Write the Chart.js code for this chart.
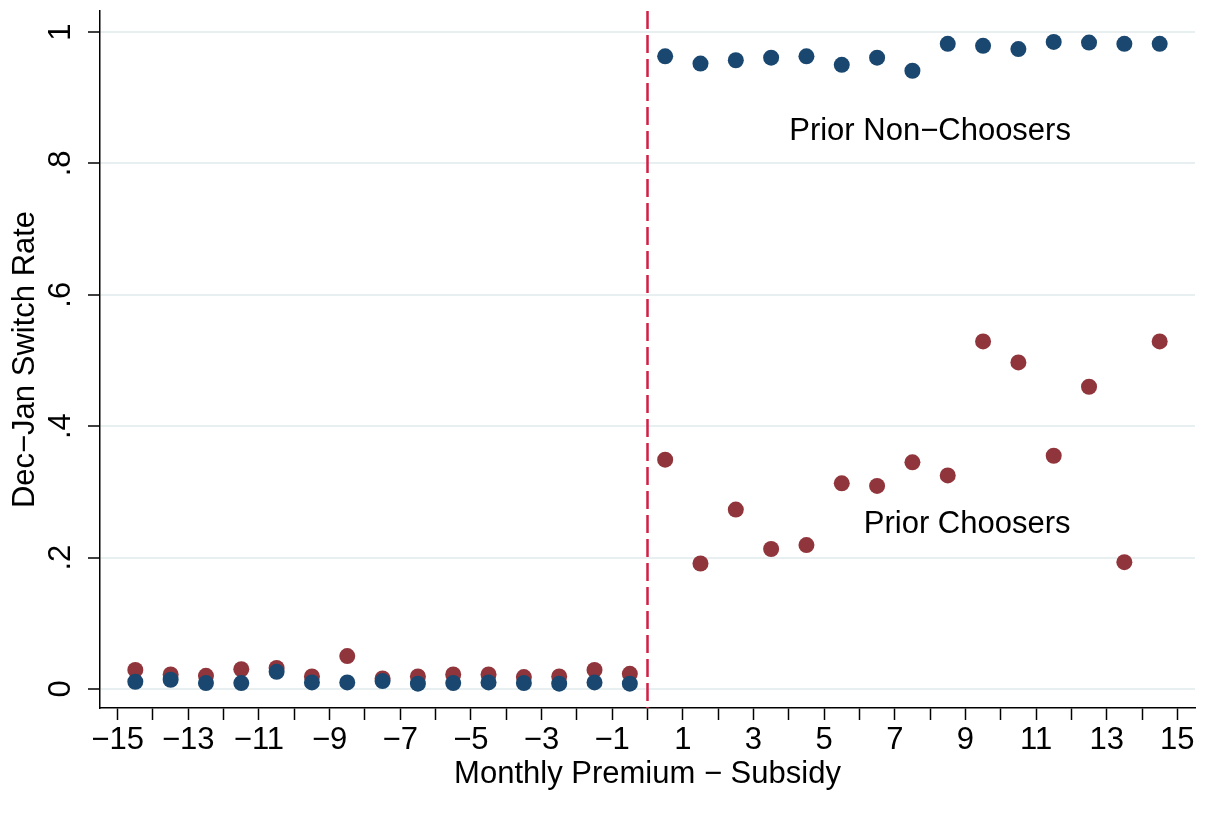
<!DOCTYPE html>
<html>
<head>
<meta charset="utf-8">
<script src="https://cdn.jsdelivr.net/npm/chart.js@4.4.1/dist/chart.umd.min.js"></script>
<style>
  html, body { margin: 0; padding: 0; background: #fff; }
  #wrap { width: 1221px; height: 830px; }
</style>
</head>
<body>
<div id="wrap"><canvas id="switchChart" width="1221" height="830"></canvas></div>
<script>
// bin midpoints, monthly premium minus subsidy
const bins = [-14.5, -13.5, -12.5, -11.5, -10.5, -9.5, -8.5, -7.5, -6.5, -5.5, -4.5, -3.5, -2.5, -1.5, -0.5,
              0.5, 1.5, 2.5, 3.5, 4.5, 5.5, 6.5, 7.5, 8.5, 9.5, 10.5, 11.5, 12.5, 13.5, 14.5];

const nonChoosers = [0.011, 0.014, 0.009, 0.009, 0.026, 0.010, 0.010, 0.012, 0.008, 0.009, 0.010, 0.009, 0.008, 0.010, 0.008,
                     0.963, 0.952, 0.957, 0.961, 0.963, 0.950, 0.961, 0.941, 0.982, 0.979, 0.974, 0.985, 0.984, 0.982, 0.982];

const choosers = [0.029, 0.022, 0.020, 0.030, 0.032, 0.019, 0.050, 0.016, 0.019, 0.022, 0.022, 0.018, 0.019, 0.029, 0.023,
                  0.349, 0.191, 0.273, 0.213, 0.219, 0.313, 0.309, 0.345, 0.325, 0.529, 0.497, 0.355, 0.460, 0.193, 0.529];

const xTicks = [];
for (let i = -15; i <= 15; i++) xTicks.push(i);
const yTicks = [0, 0.2, 0.4, 0.6, 0.8, 1];
const yTickLabels = ['0', '.2', '.4', '.6', '.8', '1'];

const labels = [
    { text: 'Prior Non\u2212Choosers', x: 8.0, y: 0.849 },
    { text: 'Prior Choosers', x: 9.05, y: 0.251 }
];

const FONT = '"Liberation Sans", Arial, sans-serif';
const FS = 31;
const navy = '#1a476f';
const maroon = '#90353b';

const toPoints = (ys) => bins.map((x, i) => ({ x: x, y: ys[i] }));

const extras = {
    id: 'extras',
    beforeDatasetsDraw(chart) {
        const { ctx, chartArea, scales } = chart;
        const x0 = scales.x.getPixelForValue(0);
        ctx.save();
        ctx.strokeStyle = '#d11f47';
        ctx.lineWidth = 2.5;
        ctx.setLineDash([18, 6]);
        ctx.beginPath();
        ctx.moveTo(x0, chartArea.top);
        ctx.lineTo(x0, chartArea.bottom);
        ctx.stroke();
        ctx.restore();
    },
    afterDraw(chart) {
        const { ctx, scales } = chart;
        ctx.save();
        ctx.fillStyle = '#000';
        ctx.font = FS + 'px ' + FONT;
        ctx.textAlign = 'center';
        ctx.textBaseline = 'middle';
        yTicks.forEach((v, i) => {
            ctx.save();
            ctx.translate(61, scales.y.getPixelForValue(v));
            ctx.rotate(-Math.PI / 2);
            ctx.fillText(yTickLabels[i], 0, 0);
            ctx.restore();
        });
        labels.forEach(l => {
            ctx.fillText(l.text, scales.x.getPixelForValue(l.x), scales.y.getPixelForValue(l.y));
        });
        ctx.restore();
    }
};

new Chart(document.getElementById('switchChart').getContext('2d'), {
    type: 'scatter',
    data: {
        datasets: [
            {
                label: 'Prior Non-Choosers',
                data: toPoints(nonChoosers),
                backgroundColor: navy,
                borderWidth: 0,
                pointRadius: 8
            },
            {
                label: 'Prior Choosers',
                data: toPoints(choosers),
                backgroundColor: maroon,
                borderWidth: 0,
                pointRadius: 8
            }
        ]
    },
    plugins: [extras],
    options: {
        responsive: false,
        animation: false,
        devicePixelRatio: 1,
        layout: { padding: { top: 11, right: 26, left: 0, bottom: 0 } },
        plugins: {
            legend: { display: false },
            tooltip: { enabled: false }
        },
        scales: {
            x: {
                type: 'linear',
                min: -15.5,
                max: 15.5,
                afterBuildTicks: (s) => { s.ticks = xTicks.map(v => ({ value: v })); },
                afterFit: (s) => { s.height = 122; },
                ticks: {
                    autoSkip: false,
                    maxRotation: 0,
                    padding: 2,
                    color: '#000',
                    font: { family: FONT, size: FS },
                    callback: (v) => (Math.abs(v) % 2 === 1 ? (v < 0 ? '\u2212' + Math.abs(v) : String(v)) : '')
                },
                grid: {
                    drawOnChartArea: false,
                    drawTicks: true,
                    tickLength: 12,
                    tickColor: '#000',
                    tickWidth: 1.5
                },
                border: { display: true, color: '#000', width: 1.5 },
                title: {
                    display: true,
                    text: 'Monthly Premium \u2212 Subsidy',
                    color: '#000',
                    font: { family: FONT, size: FS },
                    padding: { top: 0, bottom: 37 }
                }
            },
            y: {
                min: -0.029,
                max: 1.032,
                afterBuildTicks: (s) => { s.ticks = yTicks.map(v => ({ value: v })); },
                afterFit: (s) => { s.width = 100; },
                ticks: { display: false },
                grid: {
                    color: '#e8eff0',
                    lineWidth: 2,
                    drawTicks: true,
                    tickLength: 12,
                    tickColor: '#000',
                    tickWidth: 1.5
                },
                border: { display: true, color: '#000', width: 1.5 },
                title: {
                    display: true,
                    text: 'Dec\u2212Jan Switch Rate',
                    color: '#000',
                    font: { family: FONT, size: FS },
                    padding: { top: 7, bottom: 0 }
                }
            }
        }
    }
});
</script>
</body>
</html>
